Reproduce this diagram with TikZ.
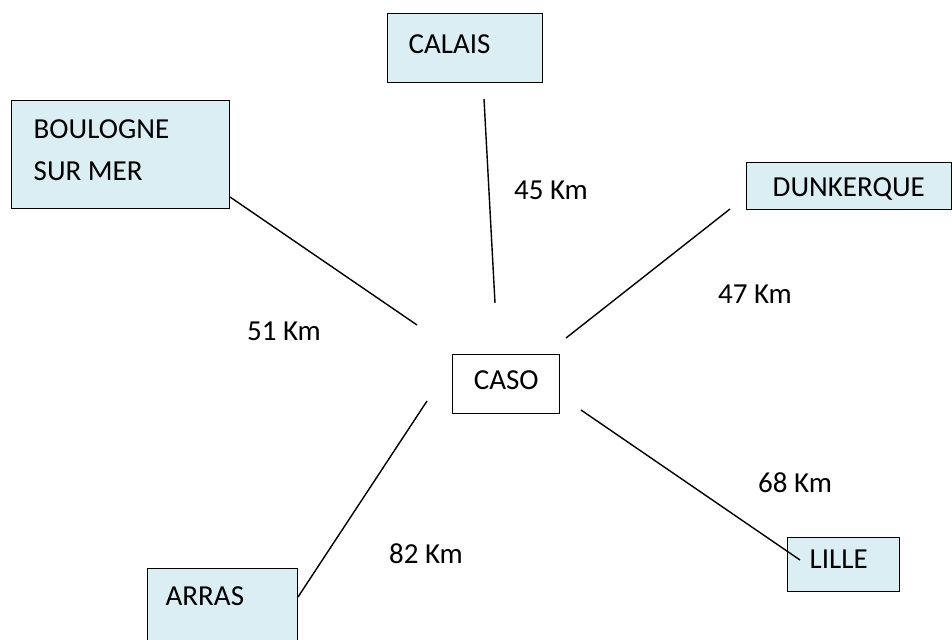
\documentclass[tikz,border=0pt]{standalone}
\usepackage{fontspec}
\setmainfont{Carlito}
\definecolor{boxblue}{RGB}{218,238,243}
\tikzset{
  ville/.style={draw, line width=0.8pt, fill=boxblue, anchor=north west, align=flush left, inner ysep=0pt},
  dist/.style={font=\fontsize{16.5}{20}\selectfont},
}
\begin{document}
\begin{tikzpicture}[x=0.02cm,y=-0.02cm,font=\fontsize{16.5}{24}\selectfont]
    \useasboundingbox (0,0) rectangle (952,639);
    % villes
    \node[ville, inner xsep=0.42cm, text width=2.26cm, text height=0.8cm, text depth=0.58cm] (calais) at (387,13) {CALAIS};
    \node[ville, inner xsep=0.44cm, text width=3.48cm, text height=0.76cm, text depth=1.4cm] (boulogne) at (11,100) {BOULOGNE\\SUR MER};
    \node[ville, inner xsep=0.52cm, text width=3.06cm, text height=0.68cm, text depth=0.26cm] (dunkerque) at (746,162) {DUNKERQUE};
    \node[ville, fill=white, align=center, inner xsep=0.2cm, text width=1.74cm, text height=0.7cm, text depth=0.48cm] (caso) at (452,354) {CASO};
    \node[ville, inner xsep=0.36cm, text width=2.28cm, text height=0.74cm, text depth=1.1cm] (arras) at (147,568) {ARRAS};
    \node[ville, inner xsep=0.44cm, text width=1.36cm, text height=0.62cm, text depth=0.46cm] (lille) at (787,537) {LILLE};
    % extremites des traits
    \coordinate (c1) at (484,99);   \coordinate (c2) at (495,303);
    \coordinate (b1) at (230,197);  \coordinate (b2) at (417,325);
    \coordinate (d1) at (730,209);  \coordinate (d2) at (566,338);
    \coordinate (a1) at (427,401);  \coordinate (a2) at (298,597);
    \coordinate (l1) at (581,410);  \coordinate (l2) at (800,560);
    \draw[line width=0.8pt] (c1) -- (c2);
    \draw[line width=0.8pt] (b1) -- (b2);
    \draw[line width=0.8pt] (d1) -- (d2);
    \draw[line width=0.8pt] (a1) -- (a2);
    \draw[line width=0.8pt] (l1) -- (l2);
    % distances
    \node[dist] (k45) at (551,190) {45 Km};
    \node[dist] (k51) at (284,331) {51 Km};
    \node[dist] (k47) at (755,294) {47 Km};
    \node[dist] (k68) at (795,483) {68 Km};
    \node[dist] (k82) at (426,554) {82 Km};
\end{tikzpicture}
\end{document}
